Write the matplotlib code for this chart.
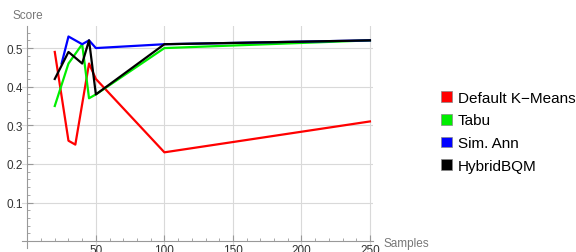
import matplotlib.pyplot as plt
from matplotlib.ticker import MultipleLocator
from matplotlib.patches import Patch

# data
kmeans_x = [20, 30, 35, 45, 50, 100, 250]
kmeans_y = [0.49, 0.26, 0.25, 0.46, 0.42, 0.23, 0.31]
tabu_x = [20, 30, 40, 45, 50, 100, 250]
tabu_y = [0.35, 0.46, 0.51, 0.37, 0.38, 0.50, 0.52]
sa_x = [25, 30, 40, 45, 50, 100, 250]
sa_y = [0.46, 0.53, 0.51, 0.52, 0.50, 0.51, 0.52]
hybrid_x = [20, 30, 40, 45, 50, 100, 250]
hybrid_y = [0.42, 0.49, 0.46, 0.52, 0.38, 0.51, 0.52]

labels = ['Default K\u2212Means', 'Tabu', 'Sim. Ann', 'HybridBQM']
colors = ['#ff0000', '#00ee00', '#0000ff', '#000000']

plt.rcParams['font.family'] = ['Liberation Sans', 'DejaVu Sans']

fig = plt.figure(figsize=(5.76, 2.53), dpi=100)
# axes box slightly past the origin so the axis lines cross like in the original
ax = fig.add_axes([0.038, 0.017, 0.609, 0.876])

series = [(kmeans_x, kmeans_y), (tabu_x, tabu_y), (sa_x, sa_y), (hybrid_x, hybrid_y)]
for (xs, ys), c in zip(series, colors):
    ax.plot(xs, ys, color=c, lw=1.6)

ax.set_xlim(-4, 252)
ax.set_ylim(-0.017, 0.557)
ax.spines['left'].set_position(('data', 0))
ax.spines['bottom'].set_position(('data', 0))
ax.xaxis.set_minor_locator(MultipleLocator(10))
ax.yaxis.set_minor_locator(MultipleLocator(0.02))
ax.set_xticks([50, 100, 150, 200, 250])
ax.set_yticks([0.1, 0.2, 0.3, 0.4, 0.5])
ax.set_xticklabels(['50', '100', '150', '200', '250'])
ax.set_yticklabels(['0.1', '0.2', '0.3', '0.4', '0.5'])
ax.grid(True, which='major', color='#d9d9d9', lw=0.8)
ax.set_axisbelow(True)

for s in ['top', 'right']:
    ax.spines[s].set_visible(False)
for s in ['left', 'bottom']:
    ax.spines[s].set_color('#999999')
ax.tick_params(which='both', direction='in', color='#999999', labelsize=8.5,
               labelcolor='#333333')
ax.tick_params(which='major', length=4)
ax.tick_params(which='minor', length=2)
ax.tick_params(axis='x', pad=2)

ax.annotate('Score', xy=(0, 1), xycoords=('data', 'axes fraction'),
            xytext=(0, 4), textcoords='offset points',
            fontsize=8.5, color='#777777', ha='center', va='bottom')
ax.annotate('Samples', xy=(1, 0), xycoords=('axes fraction', 'data'),
            xytext=(8, -1), textcoords='offset points',
            fontsize=8.5, color='#777777', ha='left', va='center')

handles = [Patch(facecolor=c, edgecolor='#888888', lw=0.5) for c in colors]
fig.legend(handles, labels, loc='upper left', bbox_to_anchor=(0.755, 0.662),
           frameon=False, fontsize=11, handlelength=0.72, handleheight=0.72,
           handletextpad=0.4, labelspacing=0.58, borderaxespad=0)

fig.savefig('out.png', dpi=100)
